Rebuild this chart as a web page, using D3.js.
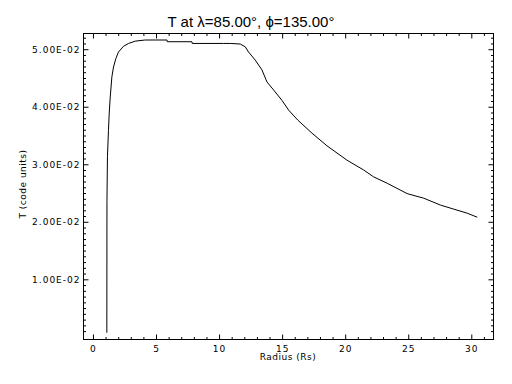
<!DOCTYPE html>
<html>
<head>
<meta charset="utf-8">
<script src="https://cdn.jsdelivr.net/npm/d3@7"></script>
<style>
  body { margin: 0; background: #fff; }
  svg { display: block; }
  .axis text { font-family: "DejaVu Sans", sans-serif; font-size: 9px; letter-spacing: 1px; fill: #000; }
  .axis line { stroke: #000; }
</style>
</head>
<body>
<div id="chart"></div>
<script>
// radius (Rs) and T (code units)
var radius = [1.10, 1.11, 1.15, 1.23, 1.29, 1.37, 1.50, 1.63, 1.82, 2.02, 2.42, 2.82, 3.35, 4.14,
  4.94, 5.87, 5.89, 7.85, 7.87, 10.36, 10.89, 11.68, 12.08, 12.34, 12.87, 13.40, 13.80, 14.33,
  14.99, 15.52, 16.23, 17.37, 18.56, 20.15, 21.47, 22.26, 23.33, 24.91, 26.23, 27.56, 28.61,
  29.67, 30.47];
var temp = [0.00072, 0.0235, 0.0314, 0.0359, 0.0389, 0.0417, 0.0452, 0.0469, 0.0484, 0.0495,
  0.0505, 0.0510, 0.0514, 0.0516, 0.0516, 0.0516, 0.0513, 0.0513, 0.0510, 0.0510, 0.0510,
  0.0509, 0.0504, 0.0495, 0.0481, 0.0464, 0.0443, 0.0429, 0.0411, 0.0394, 0.0377, 0.0354,
  0.0332, 0.0307, 0.0290, 0.0278, 0.0267, 0.0249, 0.0241, 0.0229, 0.0222, 0.0215, 0.0208];

var xMajor = [0, 5, 10, 15, 20, 25, 30];
var yMajor = [0.01, 0.02, 0.03, 0.04, 0.05];
var title = "T at \u03bb=85.00\u00b0, \u03d5=135.00\u00b0";
var xTitle = "Radius (Rs)";
var yTitle = "T (code units)";

var width = 512, height = 384;
// plot box (note: "top" is taken by window.top, so use pTop etc.)
var pLeft = 83.5, pRight = 493.5, pTop = 33.5, pBottom = 339.5;

var svg = d3.select("#chart").append("svg")
  .attr("width", width)
  .attr("height", height);

svg.append("rect").attr("width", width).attr("height", height).attr("fill", "#fff");

var x = d3.scaleLinear().domain([-0.75, 31.76]).range([pLeft, pRight]);
var y = d3.scaleLinear().domain([-0.00046, 0.05273]).range([pBottom, pTop]);

// minor tick positions
var xMinor = d3.range(0, 32).filter(function (d) { return d % 5 != 0; });
var yMinor = d3.range(1, 53).filter(function (d) { return d % 10 != 0; }).map(function (d) { return d / 1000; });

function fmtE(v) {
  var s = v.toExponential(2).toUpperCase();
  var parts = s.split("E");
  var e = parseInt(parts[1]);
  var sign = e < 0 ? "-" : "+";
  var a = Math.abs(e);
  return parts[0] + "E" + sign + (a < 10 ? "0" + a : a);
}

// bottom axis (labels) + top mirror
var gx = svg.append("g").attr("class", "axis")
  .attr("transform", "translate(0," + pBottom + ")")
  .call(d3.axisBottom(x).tickValues(xMajor).tickSize(-5).tickPadding(6.5).tickFormat(d3.format("d")));
gx.select(".domain").remove();

svg.append("g").attr("class", "axis")
  .attr("transform", "translate(0," + pBottom + ")")
  .call(d3.axisBottom(x).tickValues(xMinor).tickSize(-2.5).tickFormat(""))
  .select(".domain").remove();

svg.append("g").attr("class", "axis")
  .attr("transform", "translate(0," + pTop + ")")
  .call(d3.axisTop(x).tickValues(xMajor).tickSize(-5).tickFormat(""))
  .select(".domain").remove();
svg.append("g").attr("class", "axis")
  .attr("transform", "translate(0," + pTop + ")")
  .call(d3.axisTop(x).tickValues(xMinor).tickSize(-2.5).tickFormat(""))
  .select(".domain").remove();

// left axis (labels) + right mirror
var gy = svg.append("g").attr("class", "axis")
  .attr("transform", "translate(" + pLeft + ",0)")
  .call(d3.axisLeft(y).tickValues(yMajor).tickSize(-5).tickPadding(3).tickFormat(fmtE));
gy.select(".domain").remove();

svg.append("g").attr("class", "axis")
  .attr("transform", "translate(" + pLeft + ",0)")
  .call(d3.axisLeft(y).tickValues(yMinor).tickSize(-2.5).tickFormat(""))
  .select(".domain").remove();

svg.append("g").attr("class", "axis")
  .attr("transform", "translate(" + pRight + ",0)")
  .call(d3.axisRight(y).tickValues(yMajor).tickSize(-5).tickFormat(""))
  .select(".domain").remove();
svg.append("g").attr("class", "axis")
  .attr("transform", "translate(" + pRight + ",0)")
  .call(d3.axisRight(y).tickValues(yMinor).tickSize(-2.5).tickFormat(""))
  .select(".domain").remove();

// frame
svg.append("rect")
  .attr("x", pLeft).attr("y", pTop)
  .attr("width", pRight - pLeft).attr("height", pBottom - pTop)
  .attr("fill", "none").attr("stroke", "#000").attr("stroke-width", 1);

// curve
var pts = radius.map(function (r, i) { return [r, temp[i]]; });
var line = d3.line()
  .x(function (d) { return x(d[0]); })
  .y(function (d) { return y(d[1]); });

svg.append("path")
  .datum(pts)
  .attr("d", line)
  .attr("fill", "none")
  .attr("stroke", "#000")
  .attr("stroke-width", 1);

// titles
svg.append("text")
  .attr("x", 251).attr("y", 27)
  .attr("text-anchor", "middle")
  .style("font-family", "'Liberation Sans', sans-serif")
  .style("font-size", "15px")
  .text(title);

svg.append("text")
  .attr("x", 288).attr("y", 360)
  .attr("text-anchor", "middle")
  .style("font-family", "'DejaVu Sans', sans-serif")
  .style("font-size", "9px")
  .style("letter-spacing", "0.5px")
  .text(xTitle);

svg.append("text")
  .attr("transform", "translate(26," + 184 + ") rotate(-90)")
  .attr("text-anchor", "middle")
  .style("font-family", "'DejaVu Sans', sans-serif")
  .style("font-size", "9px")
  .style("letter-spacing", "0.5px")
  .text(yTitle);
</script>
</body>
</html>
